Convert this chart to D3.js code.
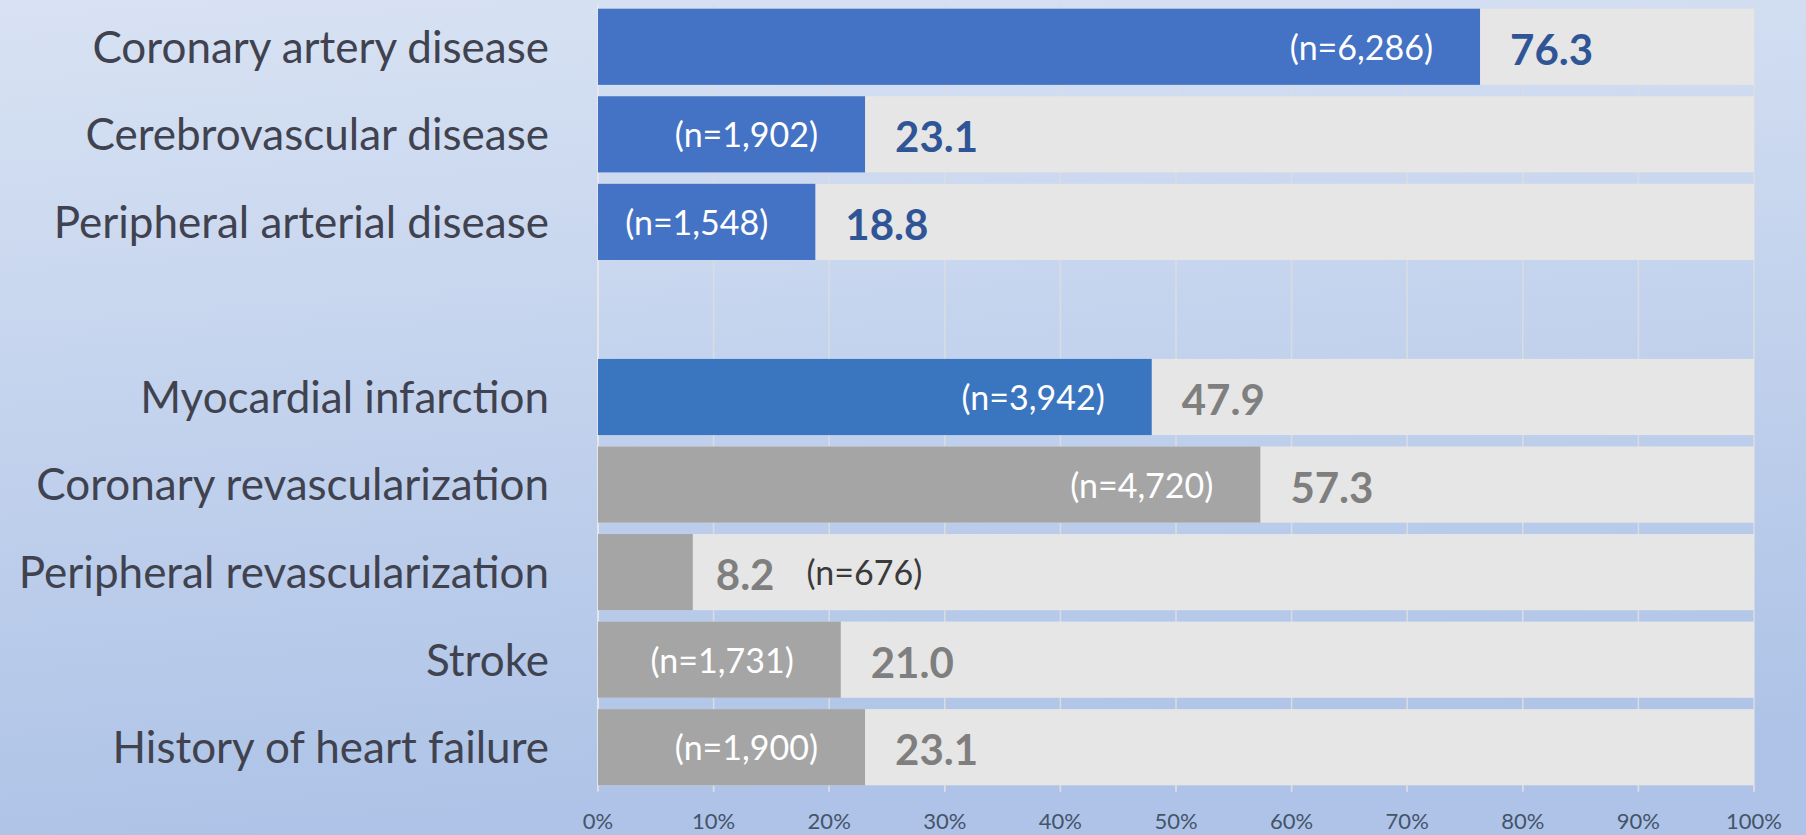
<!DOCTYPE html>
<html>
<head>
<meta charset="utf-8">
<script src="https://cdn.jsdelivr.net/npm/d3@7/dist/d3.min.js"></script>
<style>
  html, body { margin: 0; padding: 0; }
  body { width: 1806px; height: 835px; overflow: hidden; }
  svg { display: block; font-family: Lato, "Open Sans", sans-serif; }
</style>
</head>
<body>
<svg id="chart" width="1806" height="835"></svg>
<script>
// Rows from top to bottom; the empty entry is a spacer between the two blocks.
const categories = [
  "Coronary artery disease",
  "Cerebrovascular disease",
  "Peripheral arterial disease",
  "",
  "Myocardial infarction",
  "Coronary revascularization",
  "Peripheral revascularization",
  "Stroke",
  "History of heart failure"
];
// Share of patients (%)
const percents = [76.3, 23.1, 18.8, null, 47.9, 57.3, 8.2, 21.0, 23.1];
// Number of patients
const counts = [6286, 1902, 1548, null, 3942, 4720, 676, 1731, 1900];
// Group of each row (drives the colouring)
const groups = ["disease", "disease", "disease", null, "infarction", "procedure", "procedure", "event", "event"];
// Axis ticks (%)
const tickValues = [0, 10, 20, 30, 40, 50, 60, 70, 80, 90, 100];

const barColor = d3.scaleOrdinal()
  .domain(["disease", "infarction", "procedure", "event"])
  .range(["#4472C4", "#3A75C0", "#A5A5A5", "#A5A5A5"]);
const valueColor = d3.scaleOrdinal()
  .domain(["disease", "infarction", "procedure", "event"])
  .range(["#2F5597", "#7F7F7F", "#7F7F7F", "#7F7F7F"]);

const svg = d3.select("#chart");
const W = 1806, H = 835;

// Background gradient
const defs = svg.append("defs");
const grad = defs.append("linearGradient")
  .attr("id", "bg").attr("x1", 0).attr("y1", 0).attr("x2", 0.15).attr("y2", 1);
grad.append("stop").attr("offset", "0%").attr("stop-color", "#D8E2F3");
grad.append("stop").attr("offset", "100%").attr("stop-color", "#AEC3E7");
svg.append("rect").attr("width", W).attr("height", H).attr("fill", "url(#bg)");

const x = d3.scaleLinear().domain([0, 100]).range([598, 1754]);
const y = d3.scaleBand()
  .domain(d3.range(categories.length))
  .range([3, 791])
  .paddingInner(0.13)
  .paddingOuter(0.065);

const rows = categories.map((c, i) => ({
  i, name: c, pct: percents[i], n: counts[i], group: groups[i]
}));
const dataRows = rows.filter(d => d.pct != null);

// Vertical gridlines
svg.append("g")
  .selectAll("line")
  .data(tickValues)
  .join("line")
  .attr("x1", d => x(d)).attr("x2", d => x(d))
  .attr("y1", 4).attr("y2", 791)
  .attr("stroke", d => d === 0 ? "#E4E6EC" : "#DADCE2")
  .attr("stroke-width", d => d === 0 ? 2 : 1.5);

// Full-width tracks
svg.append("g")
  .selectAll("rect")
  .data(dataRows)
  .join("rect")
  .attr("x", x(0)).attr("width", x(100) - x(0))
  .attr("y", d => y(d.i)).attr("height", y.bandwidth())
  .attr("fill", "#E6E6E6");

// Bars
svg.append("g")
  .selectAll("rect")
  .data(dataRows)
  .join("rect")
  .attr("x", x(0)).attr("width", d => x(d.pct) - x(0))
  .attr("y", d => y(d.i)).attr("height", y.bandwidth())
  .attr("fill", d => barColor(d.group));

// Category labels
svg.append("g")
  .selectAll("text")
  .data(rows.filter(d => d.name))
  .join("text")
  .attr("x", 549)
  .attr("y", d => y(d.i) + y.bandwidth() / 2)
  .attr("dy", "0.36em")
  .attr("text-anchor", "end")
  .attr("font-size", 44)
  .attr("fill", "#40434F")
  .text(d => d.name);

const fmtN = d3.format(",");

// Value labels and counts
const lab = svg.append("g");
dataRows.forEach(d => {
  const cy = y(d.i) + y.bandwidth() / 2;
  const xe = x(d.pct);
  const v = lab.append("text")
    .attr("y", cy + 18)
    .attr("font-size", 42).attr("font-weight", 700)
    .attr("fill", valueColor(d.group))
    .text(d3.format(".1f")(d.pct));
  const nt = lab.append("text")
    .attr("font-size", 34)
    .attr("y", cy + 13)
    .text(`(n=${fmtN(d.n)})`);
  const nw = nt.node().getComputedTextLength();
  if (xe - x(0) > nw + 60) {
    v.attr("x", xe + 30);
    nt.attr("x", xe - 47).attr("text-anchor", "end").attr("fill", "#FFFFFF");
  } else {
    // count does not fit in the bar: put it after the value
    v.attr("x", xe + 23);
    const vw = v.node().getComputedTextLength();
    nt.attr("x", xe + 23 + vw + 32).attr("fill", "#3A3A3A");
  }
});

// Axis ticks and labels
const ax = svg.append("g");
ax.selectAll("line")
  .data(tickValues)
  .join("line")
  .attr("x1", d => x(d)).attr("x2", d => x(d))
  .attr("y1", 786).attr("y2", 792)
  .attr("stroke", "#DADCE2").attr("stroke-width", 1.5);
ax.selectAll("text")
  .data(tickValues)
  .join("text")
  .attr("x", d => x(d)).attr("y", 829)
  .attr("text-anchor", "middle")
  .attr("font-size", 22)
  .attr("fill", "#44546A")
  .text(d => d + "%");
</script>
</body>
</html>
